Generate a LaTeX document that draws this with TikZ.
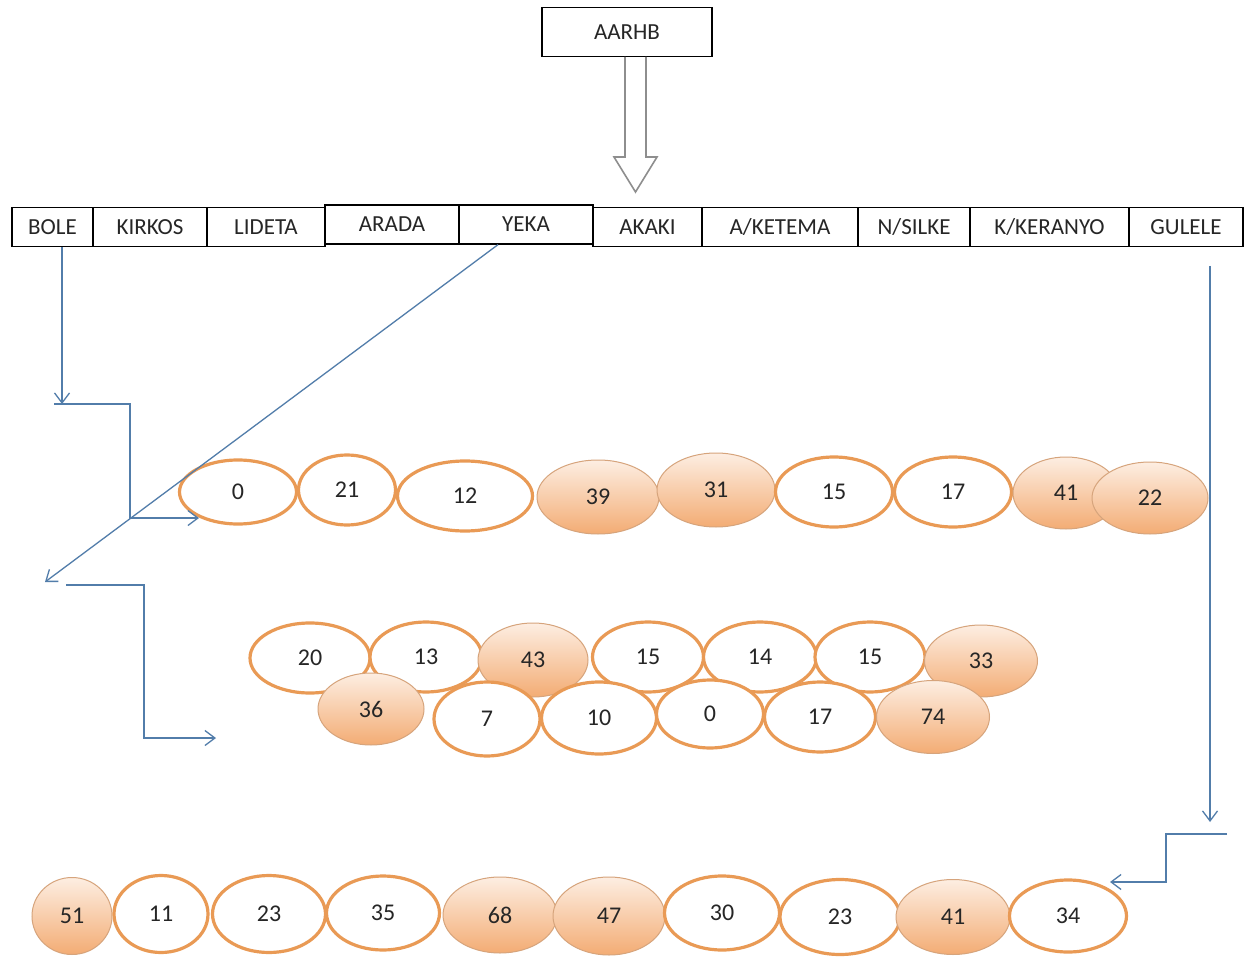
\documentclass[tikz,border=0pt]{standalone}
\usepackage{fontspec}
\setmainfont{Carlito}
\usetikzlibrary{arrows.meta,shapes.geometric}
\definecolor{arrblue}{HTML}{527DAA}
\definecolor{oran}{HTML}{E99A55}
\definecolor{peachT}{HTML}{FDEEE2}
\definecolor{peachB}{HTML}{F3AC74}
\definecolor{peachD}{HTML}{D6A47C}
\definecolor{txt}{HTML}{262626}
\definecolor{hol}{HTML}{8E8E8E}
\begin{document}
\begin{tikzpicture}[x=1pt,y=-1pt,
  lbl/.style={font=\fontsize{23}{26}\selectfont, text=txt},
  numlbl/.style={font=\fontsize{24}{27}\selectfont, text=txt},
  dbox/.style={lbl, draw=black, line width=1.3pt, inner sep=0pt, minimum height=39pt},
  wov/.style={numlbl, ellipse, draw=oran, line width=3.2pt, fill=white, inner sep=0pt},
  fov/.style={numlbl, ellipse, draw=peachD, line width=1pt, top color=peachT, bottom color=peachB, inner sep=0pt},
  arr/.style={draw=arrblue, line width=1.3pt, -{Straight Barb[length=10pt,width=15pt]}},
  hollowline/.style={draw=hol, line width=1.6pt, line join=miter}
]
\fill[white] (0,0) rectangle (1244,957);
\useasboundingbox (0,0) rectangle (1244,957);

% top box and hollow arrow
\node[dbox, minimum width=170pt, minimum height=49pt] (aarhb) at (627,32) {AARHB};
\draw[hollowline] (625,57) -- (625,157) -- (614,157) -- (635.5,192) -- (657,157) -- (646,157) -- (646,57);

% district boxes
\node[dbox, minimum width=81pt]  (bole)   at (52.5,227) {BOLE};
\node[dbox, minimum width=114pt] (kirkos) at (150,227) {KIRKOS};
\node[dbox, minimum width=118pt] (lideta) at (266,227) {LIDETA};
\node[dbox, minimum width=134pt] (arada)  at (392,224.5) {ARADA};
\node[dbox, minimum width=134pt] (yeka)   at (526,224.5) {YEKA};
\node[dbox, minimum width=109pt] (akaki)  at (647.5,227) {AKAKI};
\node[dbox, minimum width=156pt] (aket)   at (780,227) {A/KETEMA};
\node[dbox, minimum width=112pt] (nsilke) at (914,227) {N/SILKE};
\node[dbox, minimum width=159pt] (kker)   at (1049.5,227) {K/KERANYO};
\node[dbox, minimum width=114pt] (gulele) at (1186,227) {GULELE};

% row 1
\node[wov, minimum width=117pt, minimum height=64pt] (a1) at (238,492) {0};
\node[wov, minimum width=97pt,  minimum height=70pt] (a2) at (347,490) {21};
\node[wov, minimum width=135pt, minimum height=70pt] (a3) at (465,496) {12};
\node[fov, minimum width=122pt, minimum height=74pt] (a4) at (598,497) {39};
\node[fov, minimum width=118pt, minimum height=74pt] (a5) at (716,490) {31};
\node[wov, minimum width=117pt, minimum height=70pt] (a6) at (834,492) {15};
\node[wov, minimum width=117pt, minimum height=70pt] (a7) at (953,492) {17};
\node[fov, minimum width=106pt, minimum height=72pt] (a8) at (1066,493) {41};
\node[fov, minimum width=116pt, minimum height=72pt] (a9) at (1150,498) {22};

% row 2 upper
\node[wov, minimum width=120pt, minimum height=70pt] (b1) at (310,658) {20};
\node[wov, minimum width=112pt, minimum height=70pt] (b2) at (426,657) {13};
\node[fov, minimum width=110pt, minimum height=74pt] (b3) at (533,660) {43};
\node[wov, minimum width=111pt, minimum height=70pt] (b4) at (648,657) {15};
\node[wov, minimum width=113pt, minimum height=70pt] (b5) at (760,657) {14};
\node[wov, minimum width=110pt, minimum height=70pt] (b6) at (870,657) {15};
\node[fov, minimum width=113pt, minimum height=72pt] (b7) at (981,661) {33};
% row 2 lower
\node[fov, minimum width=106pt, minimum height=72pt] (c1) at (371,709) {36};
\node[wov, minimum width=106pt, minimum height=74pt] (c2) at (487,719) {7};
\node[wov, minimum width=115pt, minimum height=72pt] (c3) at (599,718) {10};
\node[wov, minimum width=107pt, minimum height=68pt] (c4) at (710,714) {0};
\node[wov, minimum width=111pt, minimum height=70pt] (c5) at (820,717) {17};
\node[fov, minimum width=113pt, minimum height=73pt] (c6) at (933,717) {74};

% row 3
\node[fov, minimum width=80pt,  minimum height=77pt] (d1)  at (72,916)   {51};
\node[wov, minimum width=94pt,  minimum height=77pt] (d2)  at (161,914)  {11};
\node[wov, minimum width=113pt, minimum height=77pt] (d3)  at (269,914)  {23};
\node[wov, minimum width=113pt, minimum height=74pt] (d4)  at (383,913)  {35};
\node[fov, minimum width=114pt, minimum height=76pt] (d5)  at (500,915)  {68};
\node[fov, minimum width=112pt, minimum height=78pt] (d6)  at (609,916)  {47};
\node[wov, minimum width=115pt, minimum height=74pt] (d7)  at (722,913)  {30};
\node[wov, minimum width=120pt, minimum height=75pt] (d8)  at (840,917)  {23};
\node[fov, minimum width=114pt, minimum height=75pt] (d9)  at (953,917)  {41};
\node[wov, minimum width=117pt, minimum height=72pt] (d10) at (1068,916) {34};

% connectors
\coordinate (boleEnd) at (62,404);
\coordinate (l1s) at (54,404);
\coordinate (l1c) at (130,518);
\coordinate (a1in) at (199,518);
\draw[arr] ([xshift=9.5pt]bole.south) -- (boleEnd);
\draw[arr] (l1s) -| (l1c) -- (a1in);

\coordinate (yekaEnd) at (45,582);
\coordinate (l2s) at (66,585);
\coordinate (l2c) at (144,738);
\coordinate (l2e) at (216,738);
\draw[arr] ([xshift=-28pt]yeka.south) -- (yekaEnd);
\draw[arr] (l2s) -| (l2c) -- (l2e);

\coordinate (g0) at (1210,266);
\coordinate (g1) at (1210,822);
\coordinate (l3s) at (1227,834);
\coordinate (l3c) at (1166,882);
\coordinate (l3e) at (1110,882);
\draw[arr] (g0) -- (g1);
\draw[arr] (l3s) -| (l3c) -- (l3e);
\end{tikzpicture}
\end{document}
